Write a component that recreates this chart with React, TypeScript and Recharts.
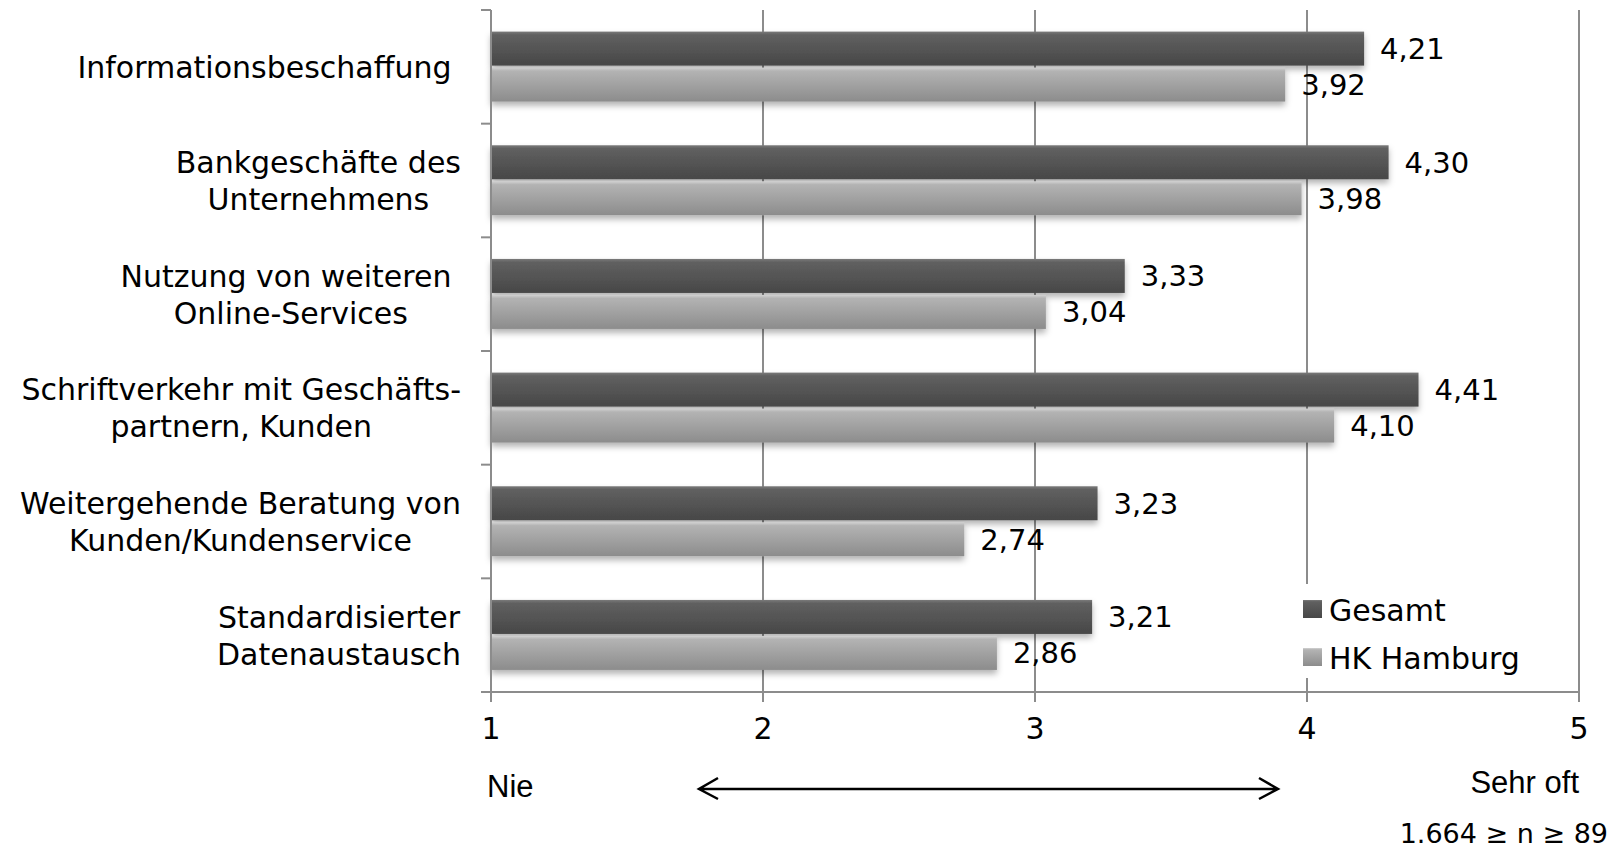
import React from 'react'
import { BarChart, Bar, XAxis, YAxis, CartesianGrid, Legend, LabelList } from 'recharts'

const categories = [
  'Informationsbeschaffung ',
  'Bankgeschäfte des\nUnternehmens',
  'Nutzung von weiteren \nOnline-Services',
  'Schriftverkehr mit Geschäfts-\npartnern, Kunden',
  'Weitergehende Beratung von\nKunden/Kundenservice',
  'Standardisierter\nDatenaustausch',
]
const gesamt = [4.21, 4.3, 3.33, 4.41, 3.23, 3.21]
const hkHamburg = [3.92, 3.98, 3.04, 4.1, 2.74, 2.86]
const xTicks = [1, 2, 3, 4, 5]

const data = categories.map((name, i) => ({ name, gesamt: gesamt[i], hk: hkHamburg[i] }))

const W = 1616
const H = 851
const FONT = '"DejaVu Sans", sans-serif'
const AXIS = '#8c8c8c'
const PLOT_LEFT = 491
const PLOT_TOP = 10
const PLOT_BOTTOM = 692
const LABEL_RIGHT = 461
const bandH = (PLOT_BOTTOM - PLOT_TOP) / categories.length

let ctx: CanvasRenderingContext2D | null = null
function measure(s: string, size: number) {
  if (!ctx) ctx = document.createElement('canvas').getContext('2d')
  if (!ctx) return s.length * size * 0.55
  ctx.font = `${size}px "DejaVu Sans"`
  return ctx.measureText(s).width
}

function CategoryTick(props: any) {
  const { y, payload, index } = props
  const lines: string[] = String(payload.value).split('\n')
  const size = 30
  const widths = lines.map((l) => measure(l, size))
  const block = Math.max(...widths)
  const cx = LABEL_RIGHT - block / 2
  const lineH = 37
  return (
    <g>
      {lines.map((l, i) => (
        <text
          key={i}
          x={cx - widths[i] / 2}
          y={y + 11 + (i - (lines.length - 1) / 2) * lineH}
          fontSize={size}
          fill="#000"
          style={{ whiteSpace: 'pre' }}
        >
          {l}
        </text>
      ))}
      <line x1={PLOT_LEFT - 10} x2={PLOT_LEFT} y1={y - bandH / 2} y2={y - bandH / 2} stroke={AXIS} strokeWidth={2} />
      {index === categories.length - 1 && (
        <line x1={PLOT_LEFT - 10} x2={PLOT_LEFT} y1={y + bandH / 2} y2={y + bandH / 2} stroke={AXIS} strokeWidth={2} />
      )}
    </g>
  )
}

const gradFor: Record<string, string> = { gesamt: 'gradDark', hk: 'gradLight' }

function ShadowBar(id: string) {
  return (props: any) => (
    <rect x={props.x} y={props.y} width={props.width} height={props.height} fill={`url(#${id})`} filter="url(#barShadow)" />
  )
}

function LegendContent(props: any) {
  const payload = props.payload || []
  return (
    <svg width={245} height={94} style={{ display: 'block' }}>
      {payload.map((e: any, i: number) => (
        <g key={e.value}>
          <rect x={10} y={16 + i * 48} width={19} height={18} fill={`url(#${gradFor[e.dataKey] || 'gradDark'})`} />
          <text x={36} y={37 + i * 48} fontSize={30} fill="#000" fontFamily={FONT}>
            {e.value}
          </text>
        </g>
      ))}
    </svg>
  )
}

const fmt = (v: any) => Number(v).toFixed(2).replace('.', ',')

export default function App() {
  return (
    <div style={{ position: 'absolute', left: 0, top: 0, width: W, height: H, background: '#fff', fontFamily: FONT }}>
      <svg width={0} height={0} style={{ position: 'absolute' }}>
        <defs>
          <linearGradient id="gradDark" x1="0" y1="0" x2="0" y2="1">
            <stop offset="0%" stopColor="#7a7a7a" />
            <stop offset="10%" stopColor="#606060" />
            <stop offset="100%" stopColor="#474747" />
          </linearGradient>
          <linearGradient id="gradLight" x1="0" y1="0" x2="0" y2="1">
            <stop offset="0%" stopColor="#d2d2d2" />
            <stop offset="10%" stopColor="#b3b3b3" />
            <stop offset="100%" stopColor="#8c8c8c" />
          </linearGradient>
          <filter id="barShadow" x="-5%" y="-30%" width="110%" height="170%">
            <feDropShadow dx="0" dy="4" stdDeviation="3" floodColor="#000" floodOpacity="0.3" />
          </filter>
        </defs>
      </svg>
      <BarChart
        width={W}
        height={H}
        data={data}
        layout="vertical"
        margin={{ top: PLOT_TOP, right: W - 1579, left: 0, bottom: 0 }}
        barCategoryGap="19%"
        barGap={2}
      >
        <CartesianGrid horizontal={false} vertical stroke={AXIS} strokeWidth={2} />
        <XAxis
          type="number"
          domain={[1, 5]}
          ticks={xTicks}
          interval={0}
          height={H - PLOT_BOTTOM}
          tickSize={10}
          tickMargin={16}
          axisLine={{ stroke: AXIS, strokeWidth: 2 }}
          tickLine={{ stroke: AXIS, strokeWidth: 2 }}
          tick={{ fontSize: 30, fill: '#000' }}
        />
        <XAxis
          xAxisId="top"
          orientation="top"
          type="number"
          domain={[1, 5]}
          height={0}
          tick={false}
          tickLine={false}
          axisLine={{ stroke: AXIS, strokeWidth: 2 }}
        />
        <YAxis
          type="category"
          dataKey="name"
          width={PLOT_LEFT}
          interval={0}
          tickLine={false}
          axisLine={{ stroke: AXIS, strokeWidth: 2 }}
          tick={CategoryTick}
        />
        <Legend
          layout="horizontal"
          verticalAlign="middle"
          align="center"
          wrapperStyle={{ left: 1293, top: 584, width: 245, height: 94, background: '#fff' }}
          content={LegendContent}
        />
        <Bar dataKey="gesamt" name="Gesamt" fill="#555" shape={ShadowBar('gradDark')} isAnimationActive={false}>
          <LabelList dataKey="gesamt" position="right" offset={16} formatter={fmt} fontSize={29} fill="#000" />
        </Bar>
        <Bar dataKey="hk" name="HK Hamburg" fill="#aaa" shape={ShadowBar('gradLight')} isAnimationActive={false}>
          <LabelList dataKey="hk" position="right" offset={16} formatter={fmt} fontSize={29} fill="#000" />
        </Bar>
      </BarChart>
      <svg width={W} height={H} style={{ position: 'absolute', left: 0, top: 0, pointerEvents: 'none' }}>
        <text x={487} y={797} fontSize={31} fontFamily='"Liberation Sans", Arial, sans-serif' fill="#000">
          Nie
        </text>
        <text x={1579} y={793} fontSize={31} fontFamily='"Liberation Sans", Arial, sans-serif' fill="#000" textAnchor="end">
          Sehr oft
        </text>
        <path
          d="M718 778 L699 789 L718 799 M699 789 H1278 M1259 778 L1278 789 L1259 799"
          stroke="#000"
          strokeWidth={2.5}
          fill="none"
        />
        <text x={1608} y={843} fontSize={27} fontFamily={FONT} fill="#000" textAnchor="end">
          1.664 ≥ n ≥ 89
        </text>
      </svg>
    </div>
  )
}
